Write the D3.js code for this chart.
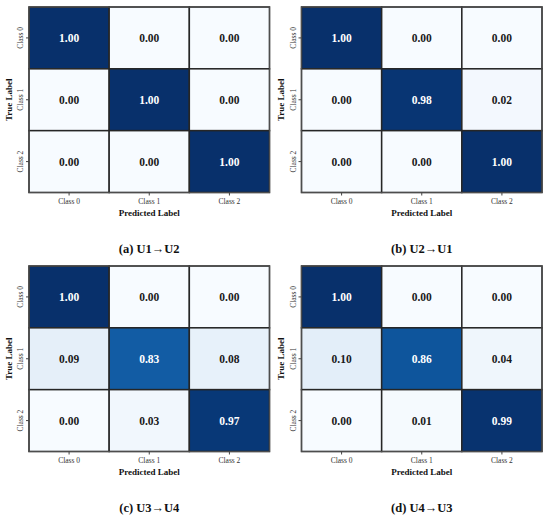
<!DOCTYPE html>
<html>
<head>
<meta charset="utf-8">
<script src="https://cdn.jsdelivr.net/npm/d3@7"></script>
<style>
  body { margin: 0; background: #fff; }
  svg { display: block; }
  .tick text { font-family: "Liberation Serif", "Times New Roman", serif; }
</style>
</head>
<body>
<div id="chart"></div>
<script>
// class names shared by every matrix
const classes = ['Class 0', 'Class 1', 'Class 2'];
const captions = ['(a) U1\u2192U2', '(b) U2\u2192U1', '(c) U3\u2192U4', '(d) U4\u2192U3'];

// normalized confusion matrices, rows = true label
const matU1U2 = [[1.00, 0.00, 0.00], [0.00, 1.00, 0.00], [0.00, 0.00, 1.00]];
const matU2U1 = [[1.00, 0.00, 0.00], [0.00, 0.98, 0.02], [0.00, 0.00, 1.00]];
const matU3U4 = [[1.00, 0.00, 0.00], [0.09, 0.83, 0.08], [0.00, 0.03, 0.97]];
const matU4U3 = [[1.00, 0.00, 0.00], [0.10, 0.86, 0.04], [0.00, 0.01, 0.99]];
const matrices = [matU1U2, matU2U1, matU3U4, matU4U3];

const width = 550, height = 519;
const gridW = 240.5, gridH = 185.5;
const lefts = [29, 301.5];
const tops = [7, 266];
const serif = '"Liberation Serif", "Times New Roman", serif';

const svg = d3.select('#chart').append('svg')
    .attr('width', width).attr('height', height)
    .attr('viewBox', '0 0 ' + width + ' ' + height);
svg.append('rect').attr('width', width).attr('height', height).attr('fill', '#fff');

const color = d3.scaleSequential(d3.interpolateBlues).domain([0, 1]);

const x = d3.scaleBand().domain(d3.range(3)).range([0, gridW]);
const y = d3.scaleBand().domain(d3.range(3)).range([0, gridH]);

matrices.forEach(function (mat, p) {
    const g = svg.append('g')
        .attr('transform', 'translate(' + lefts[p % 2] + ',' + tops[Math.floor(p / 2)] + ')');

    const cells = [];
    mat.forEach(function (row, i) {
        row.forEach(function (v, j) { cells.push({ i: i, j: j, v: v }); });
    });

    g.selectAll('rect.cell')
        .data(cells)
        .enter()
        .append('rect')
        .attr('class', 'cell')
        .attr('x', d => x(d.j))
        .attr('y', d => y(d.i))
        .attr('width', x.bandwidth())
        .attr('height', y.bandwidth())
        .attr('fill', d => color(d.v))
        .attr('stroke', '#262626')
        .attr('stroke-width', 1.5);

    g.selectAll('text.val')
        .data(cells)
        .enter()
        .append('text')
        .attr('class', 'val')
        .attr('x', d => x(d.j) + x.bandwidth() / 2)
        .attr('y', d => y(d.i) + y.bandwidth() / 2)
        .attr('dy', '0.35em')
        .attr('text-anchor', 'middle')
        .attr('font-family', serif)
        .attr('font-weight', 'bold')
        .attr('font-size', 11.5)
        .attr('fill', d => d.v > 0.5 ? '#fff' : '#1a1a1a')
        .text(d => d.v.toFixed(2));

    // outer frame
    g.append('rect')
        .attr('width', gridW).attr('height', gridH)
        .attr('fill', 'none')
        .attr('stroke', '#4d4d4d')
        .attr('stroke-width', 1.2);

    // axes
    const xAxis = g.append('g')
        .attr('transform', 'translate(0,' + gridH + ')')
        .call(d3.axisBottom(x).tickSize(3).tickSizeOuter(0).tickFormat(i => classes[i]));
    xAxis.select('.domain').remove();
    xAxis.selectAll('.tick line').attr('stroke', '#444');
    xAxis.selectAll('.tick text')
        .attr('font-size', 7.5).attr('fill', '#333').attr('y', 6);

    const yAxis = g.append('g')
        .call(d3.axisLeft(y).tickSize(3).tickSizeOuter(0).tickFormat(i => classes[i]));
    yAxis.select('.domain').remove();
    yAxis.selectAll('.tick line').attr('stroke', '#444');
    yAxis.selectAll('.tick text')
        .attr('font-size', 7.5).attr('fill', '#333')
        .attr('x', 0).attr('dy', 0)
        .attr('text-anchor', 'middle')
        .attr('transform', 'translate(-6,0) rotate(-90)');

    g.append('text')
        .attr('x', gridW / 2).attr('y', gridH + 23)
        .attr('text-anchor', 'middle')
        .attr('font-family', serif).attr('font-weight', 'bold')
        .attr('font-size', 9).attr('fill', '#111')
        .text('Predicted Label');

    g.append('text')
        .attr('transform', 'translate(-17.5,' + (gridH / 2) + ') rotate(-90)')
        .attr('text-anchor', 'middle')
        .attr('font-family', serif).attr('font-weight', 'bold')
        .attr('font-size', 9).attr('fill', '#111')
        .text('True Label');

    g.append('text')
        .attr('x', gridW / 2).attr('y', gridH + 60.5)
        .attr('text-anchor', 'middle')
        .attr('font-family', serif).attr('font-weight', 'bold')
        .attr('font-size', 12.5).attr('fill', '#111')
        .text(captions[p]);
});
</script>
</body>
</html>
